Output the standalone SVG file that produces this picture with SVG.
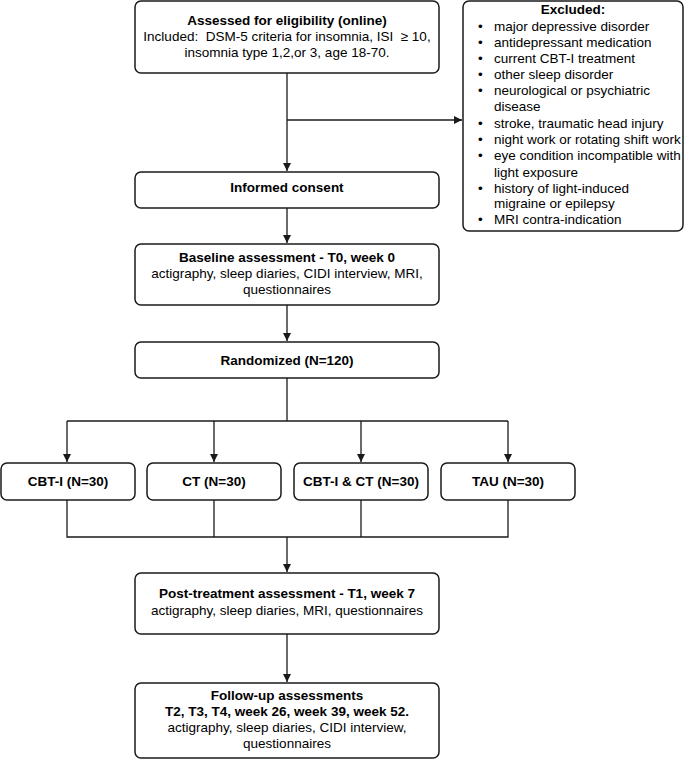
<svg xmlns="http://www.w3.org/2000/svg" width="685" height="759" viewBox="0 0 685 759">
<style>
rect.n{fill:#fff;stroke:#1a1a1a;stroke-width:1.5}
text{font-family:"Liberation Sans",Arial,sans-serif;font-size:13.5px;fill:#000}
.c{text-anchor:middle}
.b{font-weight:bold}
.l{fill:none;stroke:#1a1a1a;stroke-width:1.3}
</style>
<defs>
<marker id="ah" viewBox="0 0 10 10" refX="10" refY="5" markerWidth="8" markerHeight="8" markerUnits="userSpaceOnUse" orient="auto">
<path d="M0,0 L10,5 L0,10 z" fill="#1a1a1a"/>
</marker>
</defs>
<g id="connectors">
<path class="l" d="M287,73 V171" marker-end="url(#ah)"/>
<path class="l" d="M287,120 H462" marker-end="url(#ah)"/>
<path class="l" d="M287,208 V243" marker-end="url(#ah)"/>
<path class="l" d="M287,305 V341" marker-end="url(#ah)"/>
<path class="l" d="M287,378 V421"/>
<path class="l" d="M67,421 H508"/>
<path class="l" d="M67,421 V462" marker-end="url(#ah)"/>
<path class="l" d="M214,421 V462" marker-end="url(#ah)"/>
<path class="l" d="M361,421 V462" marker-end="url(#ah)"/>
<path class="l" d="M508,421 V462" marker-end="url(#ah)"/>
<path class="l" d="M67,500 V537 H508 V500"/>
<path class="l" d="M214,500 V537"/>
<path class="l" d="M361,500 V537"/>
<path class="l" d="M287,537 V572" marker-end="url(#ah)"/>
<path class="l" d="M287,634 V682" marker-end="url(#ah)"/>
</g>
<g id="eligibility">
<rect class="n" x="135" y="1" width="304" height="72" rx="6"/>
<text class="c b" x="287" y="25">Assessed for eligibility (online)</text>
<text class="c" x="287" y="41">Included:&#160; DSM-5 criteria for insomnia, ISI&#160; ≥ 10,</text>
<text class="c" x="287" y="57">insomnia type 1,2,or 3, age 18-70.</text>
</g>
<g id="excluded">
<rect class="n" x="463" y="1" width="220" height="230" rx="6"/>
<text class="c b" x="573" y="14">Excluded:</text>
<g>
<text x="478" y="31">•</text><text x="494" y="31">major depressive disorder</text>
<text x="478" y="47">•</text><text x="494" y="47">antidepressant medication</text>
<text x="478" y="63">•</text><text x="494" y="63">current CBT-I treatment</text>
<text x="478" y="79">•</text><text x="494" y="79">other sleep disorder</text>
<text x="478" y="95">•</text><text x="494" y="95">neurological or psychiatric</text>
<text x="494" y="111">disease</text>
<text x="478" y="128">•</text><text x="494" y="128">stroke, traumatic head injury</text>
<text x="478" y="144">•</text><text x="494" y="144">night work or rotating shift work</text>
<text x="478" y="160">•</text><text x="494" y="160">eye condition incompatible with</text>
<text x="494" y="177">light exposure</text>
<text x="478" y="193">•</text><text x="494" y="193">history of light-induced</text>
<text x="494" y="208">migraine or epilepsy</text>
<text x="478" y="224">•</text><text x="494" y="224">MRI contra-indication</text>
</g>
</g>
<g id="consent">
<rect class="n" x="135" y="172" width="304" height="36" rx="6"/>
<text class="c b" x="287" y="192">Informed consent</text>
</g>
<g id="baseline">
<rect class="n" x="135" y="244" width="304" height="61" rx="6"/>
<text class="c b" x="287" y="262">Baseline assessment - T0, week 0</text>
<text class="c" x="287" y="278">actigraphy, sleep diaries, CIDI interview, MRI,</text>
<text class="c" x="287" y="294">questionnaires</text>
</g>
<g id="randomized">
<rect class="n" x="135" y="342" width="304" height="36" rx="6"/>
<text class="c b" x="287" y="365">Randomized (N=120)</text>
</g>
<g id="cbti">
<rect class="n" x="1" y="463" width="134" height="37" rx="6"/>
<text class="c b" x="68" y="486">CBT-I (N=30)</text>
</g>
<g id="ct">
<rect class="n" x="147" y="463" width="134" height="37" rx="6"/>
<text class="c b" x="214" y="486">CT (N=30)</text>
</g>
<g id="cbtict">
<rect class="n" x="294" y="463" width="134" height="37" rx="6"/>
<text class="c b" x="361" y="486">CBT-I &amp; CT (N=30)</text>
</g>
<g id="tau">
<rect class="n" x="441" y="463" width="134" height="37" rx="6"/>
<text class="c b" x="508" y="486">TAU (N=30)</text>
</g>
<g id="post">
<rect class="n" x="135" y="573" width="304" height="61" rx="6"/>
<text class="c b" x="287" y="598">Post-treatment assessment - T1, week 7</text>
<text class="c" x="287" y="615">actigraphy, sleep diaries, MRI, questionnaires</text>
</g>
<g id="followup">
<rect class="n" x="135" y="683" width="304" height="75" rx="6"/>
<text class="c b" x="287" y="700">Follow-up assessments</text>
<text class="c b" x="287" y="716">T2, T3, T4, week 26, week 39, week 52.</text>
<text class="c" x="287" y="732">actigraphy, sleep diaries, CIDI interview,</text>
<text class="c" x="287" y="748">questionnaires</text>
</g>
</svg>
